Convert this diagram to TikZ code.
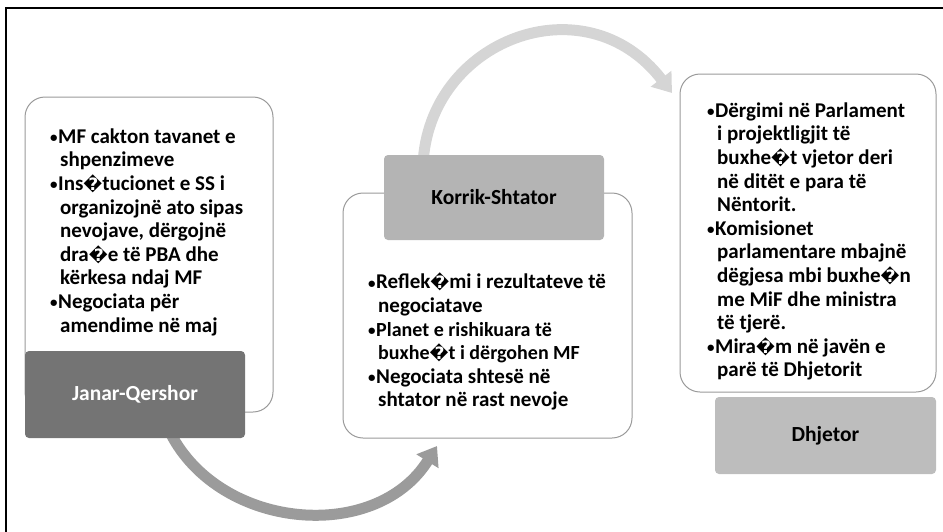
\documentclass[tikz,border=0pt]{standalone}
\usepackage{fontspec}
\setmainfont{Carlito}
\newfontfamily\symfont{DejaVu Sans}
\usetikzlibrary{arrows.meta}

\definecolor{boxline}{HTML}{9A9A9A}
\definecolor{darkhead}{HTML}{747474}
\definecolor{midhead}{HTML}{B4B4B4}
\definecolor{lighthead}{HTML}{BDBDBD}
\definecolor{arrowdark}{HTML}{9B9B9B}
\definecolor{arrowlight}{HTML}{D5D5D5}

% missing-glyph marker, as printed in the source text
\newcommand\rpl{{\symfont\fontsize{17}{17}\selectfont\bfseries ^^^^fffd}}
% bullet and hanging indent for the lists
\newcommand\bl{\makebox[8pt][l]{\fontsize{15}{15}\selectfont\raisebox{0.5pt}{\textbullet}}}
\newcommand\ct{\hspace*{10pt}}
\newcommand\firstline{\rule{0pt}{15pt}}

\tikzset{
  wbox/.style={draw=boxline, line width=1pt, fill=white, rounded corners=20pt, inner sep=0pt},
  headbox/.style={rounded corners=4pt, inner sep=0pt, minimum width=220pt,
    font=\fontsize{21.5}{24}\selectfont\bfseries},
  listtext/.style={anchor=north west, align=left, inner sep=0pt,
    font=\fontsize{21}{23.6}\selectfont\bfseries},
  bigarrow/.style={line width=11pt, -{Triangle[width=25pt,length=18pt]}}
}

\begin{document}
\begin{tikzpicture}[x=1pt,y=-1pt]
\useasboundingbox (0,0) rectangle (943,531);
\clip (0,0) rectangle (943,531);

% outer frame
\draw[line width=1.6pt] (6,8) rectangle (990,580);

% curved arrows (behind the boxes)
\coordinate (a1s) at (168,428);
\coordinate (a1e) at (437,446);
\coordinate (a2s) at (423,165);
\coordinate (a2e) at (672,93);
\draw[bigarrow, arrowdark] (a1s) .. controls (215,530) and (375,545) .. (a1e);
\draw[bigarrow, arrowlight] (a2s) .. controls (428,40) and (585,-20) .. (a2e);

% January - June
\node[wbox, minimum width=248pt, minimum height=315pt] (lbox) at (149,254.5) {};
\node[headbox, fill=darkhead, text=white, minimum height=87pt] (jan) at (135,394.5) {Janar-Qershor};
\node[listtext] (ltxt) at (50,128) {\firstline\bl MF cakton tavanet e\\
\ct shpenzimeve\\
\bl Ins\rpl tucionet e SS i\\
\ct organizojnë ato sipas\\
\ct nevojave, dërgojnë\\
\ct dra\rpl e të PBA dhe\\
\ct kërkesa ndaj MF\\
\bl Negociata për\\
\ct amendime në maj};

% July - September
\node[wbox, minimum width=289pt, minimum height=245pt] (mbox) at (487.5,315.5) {};
\node[headbox, fill=midhead, minimum height=85pt] (kor) at (494,197.5) {Korrik-Shtator};
\node[listtext] (mtxt) at (368,273) {\firstline\bl Reflek\rpl mi i rezultateve të\\
\ct negociatave\\
{\fontsize{20}{23.6}\selectfont\bl Planet e rishikuara të}\\
{\fontsize{20}{23.6}\selectfont\ct buxhe\rpl t i dërgohen MF}\\
\bl Negociata shtesë në\\
\ct shtator në rast nevoje};

% December
\node[wbox, minimum width=256pt, minimum height=318pt] (rbox) at (808,233) {};
\node[headbox, fill=lighthead, minimum width=221pt, minimum height=77pt] (dhj) at (825.5,435.5) {Dhjetor};
\node[listtext] (rtxt) at (707,102) {\firstline\bl Dërgimi në Parlament\\
\ct i projektligjit të\\
\ct buxhe\rpl t vjetor deri\\
\ct në ditët e para të\\
\ct Nëntorit.\\
\bl Komisionet\\
\ct parlamentare mbajnë\\
\ct dëgjesa mbi buxhe\rpl n\\
\ct me MiF dhe ministra\\
\ct të tjerë.\\
\bl Mira\rpl m në javën e\\
\ct parë të Dhjetorit};
\end{tikzpicture}
\end{document}
